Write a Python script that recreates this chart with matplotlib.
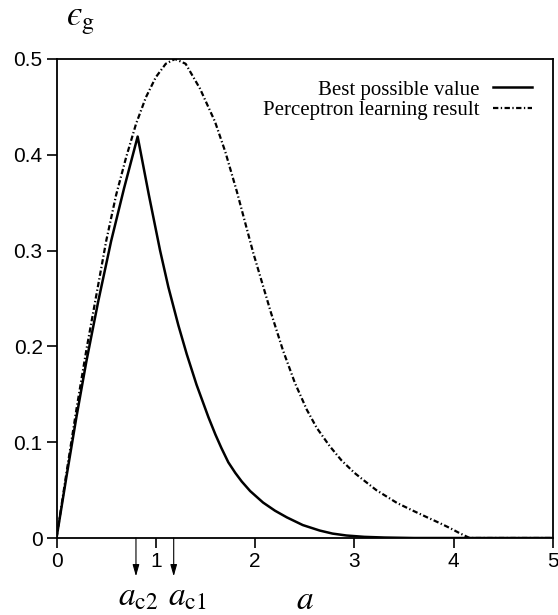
import matplotlib
matplotlib.use('Agg')
import matplotlib.pyplot as plt

plt.rcParams['font.family'] = ['Liberation Sans', 'DejaVu Sans']
plt.rcParams['mathtext.fontset'] = 'stix'

# generalization error vs. a
a_best = [0, 0.1, 0.2, 0.3, 0.42, 0.55, 0.68, 0.817, 0.93, 1.043, 1.126, 1.227,
          1.311, 1.41, 1.53, 1.6, 1.66, 1.73, 1.8, 1.865, 1.95, 2.08, 2.2, 2.32,
          2.48, 2.65, 2.78, 2.92, 3.1, 3.3, 3.6, 5.0]
eps_best = [0, 0.064, 0.126, 0.184, 0.247, 0.31, 0.365, 0.419, 0.358, 0.300,
            0.262, 0.222, 0.192, 0.160, 0.126, 0.108, 0.094, 0.079, 0.068, 0.059,
            0.049, 0.037, 0.0285, 0.0215, 0.0135, 0.0078, 0.0046, 0.0026, 0.0012,
            0.0005, 0, 0]

a_perc = [0, 0.1, 0.2, 0.3, 0.4, 0.5, 0.6, 0.7, 0.8, 0.9, 1.0, 1.1, 1.193, 1.3,
          1.445, 1.596, 1.7, 1.815, 1.98, 2.16, 2.28, 2.40, 2.52, 2.62, 2.75, 2.87,
          3.0, 3.06, 3.22, 3.43, 3.6, 3.73, 3.85, 3.96, 4.06, 4.16, 5.0]
eps_perc = [0, 0.068, 0.134, 0.196, 0.253, 0.31, 0.358, 0.397, 0.432, 0.46, 0.481,
            0.495, 0.5, 0.495, 0.469, 0.4345, 0.403, 0.362, 0.298, 0.235, 0.196,
            0.162, 0.134, 0.115, 0.096, 0.081, 0.068, 0.063, 0.05, 0.0365, 0.028,
            0.0217, 0.016, 0.0105, 0.005, 0, 0]

# critical points marked under the axis
a_c = [0.80, 1.18]
a_c_labels = [r'$a_{\rm c2}$', r'$a_{\rm c1}$']
a_c_label_x = [0.82, 1.32]

fig = plt.figure(figsize=(5.58, 6.15), dpi=100)
ax = fig.add_axes([0.1013, 0.1252, 0.8898, 0.7789])

ax.plot(a_best, eps_best, color='black', lw=1.8, label='Best possible value')
line_p, = ax.plot(a_perc, eps_perc, color='black', lw=1.6,
                  label='Perceptron learning result')
line_p.set_dashes((2.4, 1.1, 0.6, 1.1))

ax.set_xlim(0, 5)
ax.set_ylim(0, 0.5)
ax.set_xticks([0, 1, 2, 3, 4, 5])
ax.set_yticks([0, 0.1, 0.2, 0.3, 0.4, 0.5])
ax.set_yticklabels(['0', '0.1', '0.2', '0.3', '0.4', '0.5'])
ax.tick_params(direction='out', length=7, width=1.2, labelsize=15, pad=3)
for sp in ax.spines.values():
    sp.set_linewidth(1.3)

# axis labels
ax.text(0.02, 1.071, '$\u03f5_{\\rm g}$', transform=ax.transAxes,
        fontsize=25, ha='left', va='baseline')
ax.set_xlabel(r'$a$', fontsize=24)
ax.xaxis.set_label_coords(0.5, -0.148)
ax.xaxis.label.set_va('baseline')

for x, lab, lx in zip(a_c, a_c_labels, a_c_label_x):
    ax.annotate('', xy=(x, -0.08), xytext=(x, 0.0),
                xycoords=('data', 'axes fraction'),
                textcoords=('data', 'axes fraction'),
                arrowprops=dict(arrowstyle='-|>,head_length=0.7,head_width=0.2',
                                lw=0.8, color='black', shrinkA=0, shrinkB=0),
                annotation_clip=False)
    ax.text(lx, -0.14, lab, transform=ax.get_xaxis_transform(),
            fontsize=24, ha='center', va='baseline')

leg = ax.legend(loc='upper right', bbox_to_anchor=(0.957, 0.956),
                frameon=False, markerfirst=False, borderpad=0, borderaxespad=0,
                handlelength=1.87, handletextpad=0.62, labelspacing=0.05,
                prop={'family': 'Liberation Serif', 'size': 15})

fig.savefig('out.png', dpi=100, facecolor='white')
